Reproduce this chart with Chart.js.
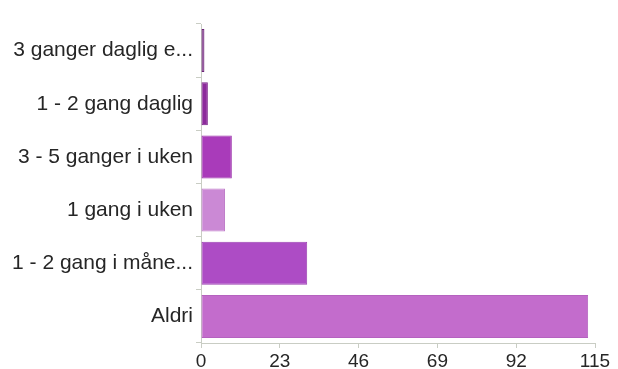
<!DOCTYPE html>
<html>
<head>
<meta charset="utf-8">
<script src="https://cdn.jsdelivr.net/npm/chart.js@4"></script>
<style>
    html, body { margin: 0; padding: 0; background: #fff; }
    #wrap { width: 618px; height: 369px; }
</style>
</head>
<body>
<div id="wrap"><canvas id="barChart" width="618" height="369"></canvas></div>
<script>
const answers = [
    '3 ganger daglig e...',
    '1 - 2 gang daglig',
    '3 - 5 ganger i uken',
    '1 gang i uken',
    '1 - 2 gang i måne...',
    'Aldri'
];
const counts = [1, 2, 9, 7, 31, 113];
const barColors = ['#782a84', '#8c2b9b', '#a93bba', '#cb89d5', '#ad4cc5', '#c36ccc'];
const borderColors = ['#6a2276', '#7c238a', '#9a32aa', '#bf7cc9', '#9c41b2', '#b562bf'];
const xTicks = [0, 23, 46, 69, 92, 115];

const ctx = document.getElementById('barChart').getContext('2d');
const chart = new Chart(ctx, {
    type: 'bar',
    data: {
        labels: answers,
        datasets: [{
            data: counts,
            backgroundColor: barColors,
            borderColor: borderColors,
            borderWidth: 1,
            borderSkipped: false,
            barPercentage: 0.81,
            categoryPercentage: 1
        }]
    },
    options: {
        indexAxis: 'y',
        responsive: false,
        animation: false,
        layout: { padding: { top: 24, right: 23, left: 0, bottom: 0 } },
        plugins: {
            legend: { display: false },
            tooltip: { enabled: false }
        },
        scales: {
            x: {
                min: 0,
                max: 115,
                afterBuildTicks: axis => {
                    axis.ticks = xTicks.map(v => ({ value: v }));
                },
                afterFit: axis => { axis.height = 26; },
                grid: {
                    drawOnChartArea: false,
                    tickLength: 5,
                    color: '#c9cdc4'
                },
                border: { color: '#c9cdc4' },
                ticks: {
                    color: '#262626',
                    padding: 2,
                    maxRotation: 0,
                    font: { family: 'Liberation Sans', size: 19 }
                }
            },
            y: {
                afterFit: axis => { axis.width = 201; },
                grid: {
                    drawOnChartArea: false,
                    tickLength: 5,
                    color: '#c9cdc4'
                },
                border: { color: '#c9cdc4' },
                ticks: {
                    color: '#262626',
                    padding: 3,
                    font: { family: 'Liberation Sans', size: 21 }
                }
            }
        }
    }
});
</script>
</body>
</html>
